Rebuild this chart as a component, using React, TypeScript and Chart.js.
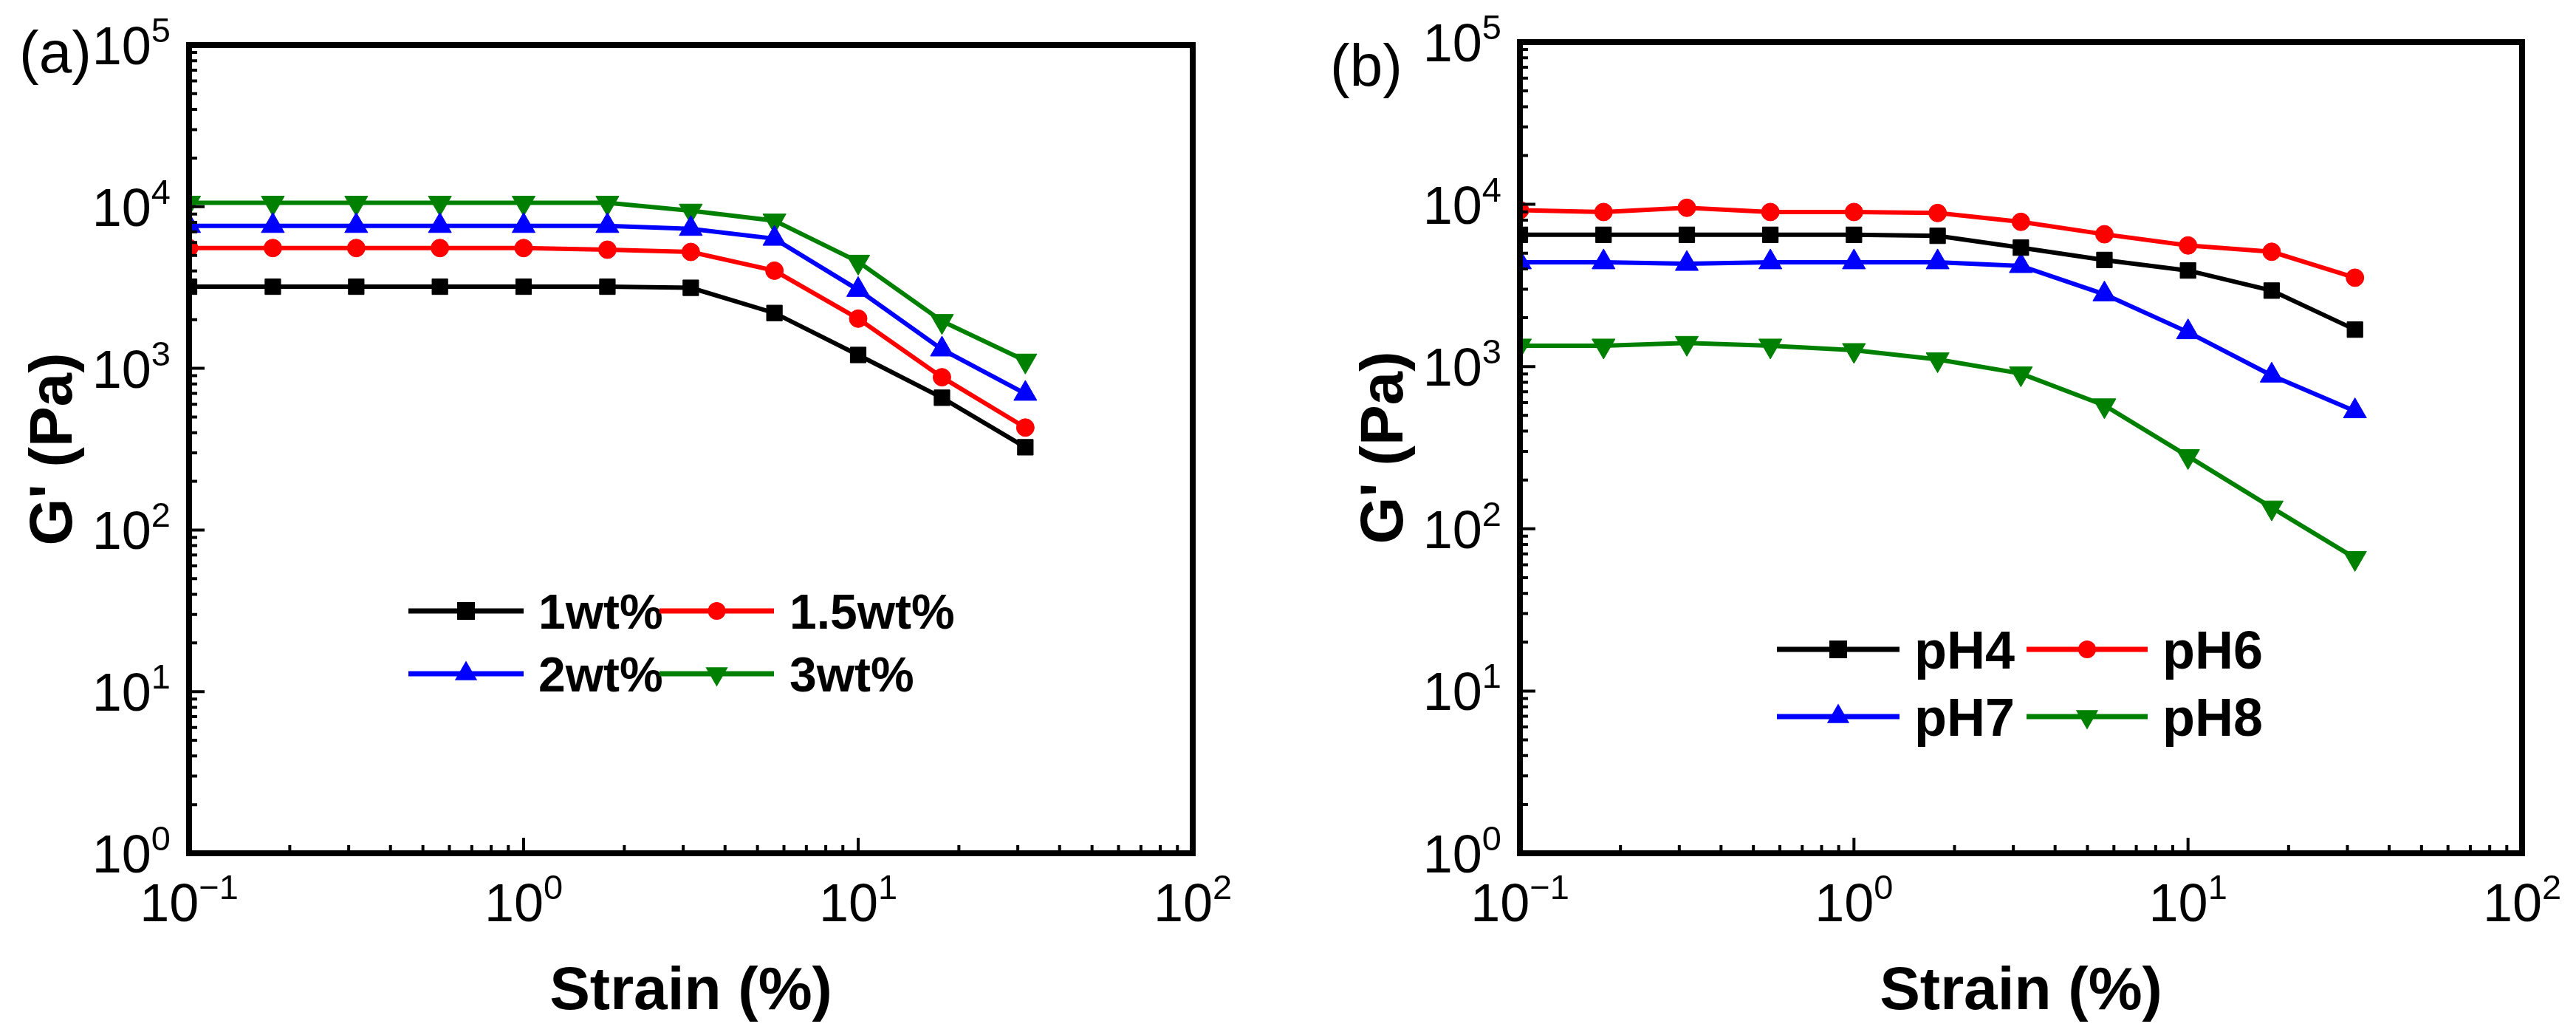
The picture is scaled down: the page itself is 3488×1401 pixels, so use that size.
import { useEffect, useRef } from "react"
import { Chart, registerables } from "chart.js"

Chart.register(...registerables)

// strain sweep (%), shared by both panels
const strain = [0.1, 0.178, 0.316, 0.562, 1, 1.78, 3.16, 5.62, 10, 17.8, 31.6]

// (a) G' by concentration
const wt1 = [3200, 3200, 3200, 3200, 3200, 3200, 3150, 2200, 1210, 658, 325]
const wt15 = [5550, 5550, 5550, 5550, 5550, 5420, 5250, 4020, 2030, 881, 430]
const wt2 = [7610, 7610, 7610, 7610, 7610, 7610, 7300, 6340, 3060, 1310, 697]
const wt3 = [10560, 10560, 10560, 10560, 10560, 10560, 9440, 8200, 4560, 1960, 1115]

// (b) G' by pH
const pH4 = [6490, 6490, 6490, 6490, 6490, 6400, 5410, 4540, 3910, 2940, 1690]
const pH6 = [9210, 8970, 9520, 8970, 8970, 8840, 7800, 6540, 5580, 5100, 3530]
const pH7 = [4400, 4400, 4300, 4400, 4400, 4400, 4170, 2790, 1630, 881, 531]
const pH8 = [1345, 1345, 1397, 1345, 1262, 1106, 906, 576, 280, 135, 66]

// axis decades (exponents of 10)
const xExps = [-1, 0, 1, 2]
const yExps = [0, 1, 2, 3, 4, 5]

const FONT = "'Liberation Sans', Arial, sans-serif"

type Series = { label: string; values: number[]; color: string; style: string; rotation: number; radius: number }
type LegendSlot = { x1: number; x2: number; tx: number; y: number }
type PanelCfg = {
  series: Series[]
  tag: string
  tagX: number
  tagY: number
  padding: { left: number; right: number; top: number; bottom: number }
  legend: LegendSlot[]
  legendFont: number
}

const mk = (label: string, values: number[], color: string, style: string, rotation: number, radius: number): Series => ({
  label,
  values,
  color,
  style,
  rotation,
  radius,
})

const panelA: PanelCfg = {
  series: [
    mk("1wt%", wt1, "#000000", "rect", 0, 15),
    mk("1.5wt%", wt15, "#ff0000", "circle", 0, 12),
    mk("2wt%", wt2, "#0000ff", "triangle", 0, 18),
    mk("3wt%", wt3, "#008000", "triangle", 180, 18),
  ],
  tag: "(a)",
  tagX: 26,
  tagY: 98,
  padding: { left: 256, right: 129, top: 61, bottom: 246 },
  legend: [
    { x1: 553, x2: 709, tx: 729, y: 827 },
    { x1: 893, x2: 1048, tx: 1069, y: 827 },
    { x1: 553, x2: 709, tx: 729, y: 912 },
    { x1: 893, x2: 1048, tx: 1069, y: 912 },
  ],
  legendFont: 66,
}

const panelB: PanelCfg = {
  series: [
    mk("pH4", pH4, "#000000", "rect", 0, 15),
    mk("pH6", pH6, "#ff0000", "circle", 0, 12),
    mk("pH7", pH7, "#0000ff", "triangle", 0, 18),
    mk("pH8", pH8, "#008000", "triangle", 180, 18),
  ],
  tag: "(b)",
  tagX: 57,
  tagY: 116,
  padding: { left: 314, right: 73, top: 57, bottom: 246 },
  legend: [
    { x1: 662, x2: 828, tx: 848, y: 879 },
    { x1: 1000, x2: 1164, tx: 1184, y: 879 },
    { x1: 662, x2: 828, tx: 848, y: 970 },
    { x1: 1000, x2: 1164, tx: 1184, y: 970 },
  ],
  legendFont: 72,
}

function drawMarker(ctx: CanvasRenderingContext2D, s: Series, x: number, y: number, r: number) {
  ctx.fillStyle = s.color
  ctx.beginPath()
  if (s.style === "rect") {
    const h = Math.SQRT1_2 * r
    ctx.rect(x - h, y - h, 2 * h, 2 * h)
  } else if (s.style === "circle") {
    ctx.arc(x, y, r, 0, Math.PI * 2)
  } else {
    let rad = (s.rotation * Math.PI) / 180
    ctx.moveTo(x + Math.sin(rad) * r, y - Math.cos(rad) * r)
    rad += (2 * Math.PI) / 3
    ctx.lineTo(x + Math.sin(rad) * r, y - Math.cos(rad) * r)
    rad += (2 * Math.PI) / 3
    ctx.lineTo(x + Math.sin(rad) * r, y - Math.cos(rad) * r)
    ctx.closePath()
  }
  ctx.fill()
}

// "10" with a raised exponent
function powLabel(ctx: CanvasRenderingContext2D, exp: number, x: number, baseline: number, align: "right" | "center") {
  const sup = exp < 0 ? "\u2212" + Math.abs(exp) : String(exp)
  ctx.font = `72px ${FONT}`
  const wm = ctx.measureText("10").width
  ctx.font = `47px ${FONT}`
  const ws = ctx.measureText(sup).width
  const left = align === "right" ? x - wm - ws : x - (wm + ws) / 2
  ctx.textAlign = "left"
  ctx.textBaseline = "alphabetic"
  ctx.font = `72px ${FONT}`
  ctx.fillText("10", left, baseline)
  ctx.font = `47px ${FONT}`
  ctx.fillText(sup, left + wm, baseline - 30)
}

function originStyle(cfg: PanelCfg) {
  return {
    id: "originStyle",
    afterDatasetsDraw(chart: any) {
      const { ctx, chartArea: ca, scales } = chart
      const xs = scales.x
      const ys = scales.y
      ctx.save()
      ctx.strokeStyle = "#000"
      ctx.fillStyle = "#000"

      // inward ticks on bottom and left
      ctx.lineWidth = 4
      ctx.beginPath()
      for (let i = 0; i < xExps.length; i++) {
        const e = xExps[i]
        const last = i === xExps.length - 1
        for (let m = 1; m <= (last ? 1 : 9); m++) {
          const px = xs.getPixelForValue(m * Math.pow(10, e))
          const len = m === 1 ? 21 : 11
          ctx.moveTo(px, ca.bottom)
          ctx.lineTo(px, ca.bottom - len)
        }
      }
      for (let i = 0; i < yExps.length; i++) {
        const e = yExps[i]
        const last = i === yExps.length - 1
        for (let m = 1; m <= (last ? 1 : 9); m++) {
          const py = ys.getPixelForValue(m * Math.pow(10, e))
          const len = m === 1 ? 21 : 11
          ctx.moveTo(ca.left, py)
          ctx.lineTo(ca.left + len, py)
        }
      }
      ctx.stroke()

      // frame
      ctx.lineWidth = 8
      ctx.strokeRect(ca.left, ca.top, ca.right - ca.left, ca.bottom - ca.top)

      // tick labels
      xExps.forEach((e) => powLabel(ctx, e, xs.getPixelForValue(Math.pow(10, e)), ca.bottom + 92, "center"))
      yExps.forEach((e) => powLabel(ctx, e, ca.left - 25, ys.getPixelForValue(Math.pow(10, e)) + 26, "right"))

      // axis titles
      ctx.font = `bold 82px ${FONT}`
      ctx.textAlign = "center"
      ctx.textBaseline = "alphabetic"
      ctx.fillText("Strain (%)", (ca.left + ca.right) / 2, ca.bottom + 211)
      ctx.save()
      ctx.translate(ca.left - 159, (ca.top + ca.bottom) / 2)
      ctx.rotate(-Math.PI / 2)
      ctx.fillText("G' (Pa)", 0, 0)
      ctx.restore()

      // panel tag
      ctx.font = `80px ${FONT}`
      ctx.textAlign = "left"
      ctx.fillText(cfg.tag, cfg.tagX, cfg.tagY)

      // legend
      cfg.series.forEach((s, i) => {
        const slot = cfg.legend[i]
        ctx.strokeStyle = s.color
        ctx.lineWidth = 7
        ctx.beginPath()
        ctx.moveTo(slot.x1, slot.y)
        ctx.lineTo(slot.x2, slot.y)
        ctx.stroke()
        drawMarker(ctx, s, (slot.x1 + slot.x2) / 2, slot.y, s.style === "rect" ? 17 : s.style === "circle" ? 12 : 17.5)
        ctx.fillStyle = "#000"
        ctx.font = `bold ${cfg.legendFont}px ${FONT}`
        ctx.textAlign = "left"
        ctx.fillText(s.label, slot.tx, slot.y + cfg.legendFont * 0.36)
      })
      ctx.restore()
    },
  }
}

function Panel({ cfg }: { cfg: PanelCfg }) {
  const canvasRef = useRef<HTMLCanvasElement>(null)
  const chartRef = useRef<Chart | null>(null)

  useEffect(() => {
    if (!canvasRef.current) return
    if (chartRef.current) chartRef.current.destroy()

    chartRef.current = new Chart(canvasRef.current, {
      type: "line",
      data: {
        datasets: cfg.series.map((s) => ({
          label: s.label,
          data: strain.map((x, i) => ({ x, y: s.values[i] })),
          borderColor: s.color,
          backgroundColor: s.color,
          borderWidth: 6,
          tension: 0,
          pointStyle: s.style as any,
          pointRotation: s.rotation,
          pointRadius: s.radius,
          pointHoverRadius: s.radius,
          pointBorderWidth: 1,
          pointBackgroundColor: s.color,
          pointBorderColor: s.color,
        })),
      },
      options: {
        animation: false,
        responsive: false,
        devicePixelRatio: 1,
        events: [],
        layout: { padding: cfg.padding },
        scales: {
          x: { type: "logarithmic", min: 0.1, max: 100, display: false },
          y: { type: "logarithmic", min: 1, max: 100000, display: false },
        },
        plugins: {
          legend: { display: false },
          tooltip: { enabled: false },
        },
      },
      plugins: [originStyle(cfg)],
    })

    return () => {
      if (chartRef.current) {
        chartRef.current.destroy()
        chartRef.current = null
      }
    }
  }, [cfg])

  return <canvas ref={canvasRef} width={1744} height={1401} style={{ display: "block", width: 1744, height: 1401 }} />
}

export default function App() {
  useEffect(() => {
    document.body.style.margin = "0"
  }, [])

  return (
    <div style={{ display: "flex", width: 3488, height: 1401, background: "#fff" }}>
      <Panel cfg={panelA} />
      <Panel cfg={panelB} />
    </div>
  )
}
